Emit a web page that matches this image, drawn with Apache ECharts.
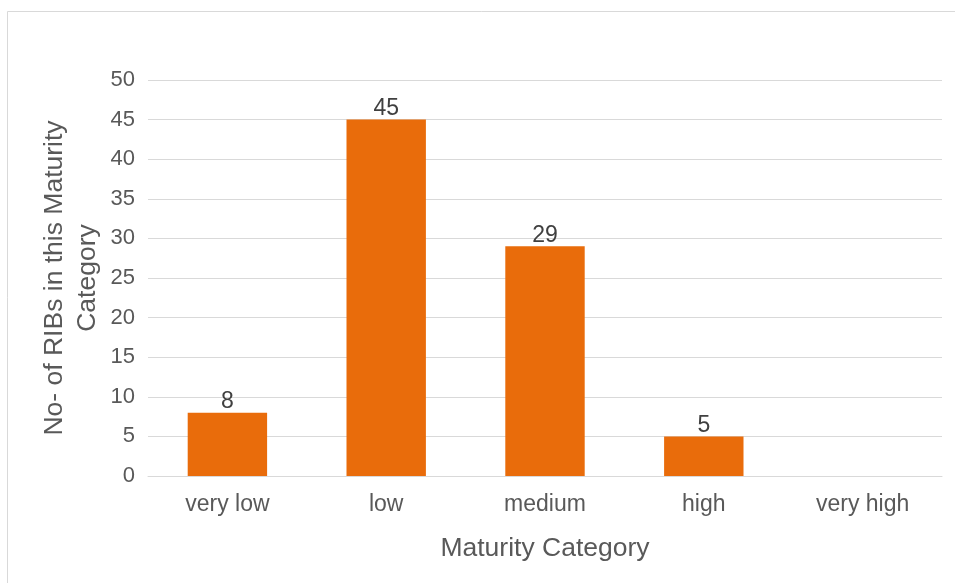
<!DOCTYPE html>
<html>
<head>
<meta charset="utf-8">
<script src="https://cdn.jsdelivr.net/npm/echarts@6/dist/echarts.min.js"></script>
<style>
html,body{margin:0;padding:0;background:#fff;}
#c{width:955px;height:583px;}
</style>
</head>
<body>
<div id="c"></div>
<script>
const categories = ['very low', 'low', 'medium', 'high', 'very high'];
const counts = [8, 45, 29, 5, 0];
const yTicks = { min: 0, max: 50, interval: 5 };
const xTitle = 'Maturity Category';
const yTitle = 'No- of RIBs in this Maturity\nCategory';

const chart = echarts.init(document.getElementById('c'), null, { renderer: 'canvas' });
const font = 'Arial, "Liberation Sans", sans-serif';
chart.setOption({
  animation: false,
  backgroundColor: '#fff',
  graphic: [{
    type: 'rect',
    shape: { x: 7.5, y: 11.5, width: 960, height: 600 },
    style: { fill: 'none', stroke: '#d9d9d9', lineWidth: 1 },
    silent: true, z: -10
  }],
  grid: { left: 148, right: 13, top: 80, bottom: 107 },
  xAxis: {
    type: 'category',
    data: categories,
    name: xTitle,
    nameLocation: 'middle',
    nameGap: 60,
    nameMoveOverlap: false,
    nameTextStyle: { fontFamily: font, fontSize: 26.5, color: '#595959', lineHeight: 26 },
    axisLine: { lineStyle: { color: '#d9d9d9', width: 1 } },
    axisTick: { show: false },
    axisLabel: { fontFamily: font, fontSize: 23, color: '#595959', margin: 17 }
  },
  yAxis: {
    type: 'value',
    min: yTicks.min, max: yTicks.max, interval: yTicks.interval,
    name: yTitle,
    nameLocation: 'middle',
    nameGap: 44,
    nameMoveOverlap: false,
    nameTextStyle: { fontFamily: font, fontSize: 26.5, color: '#595959', lineHeight: 33 },
    axisLine: { show: false },
    axisTick: { show: false },
    axisLabel: { fontFamily: font, fontSize: 22, color: '#595959', margin: 13 },
    splitLine: { lineStyle: { color: '#d9d9d9', width: 1 } }
  },
  series: [{
    type: 'bar',
    data: counts,
    barCategoryGap: '50%',
    itemStyle: { color: '#E96C0B' },
    label: {
      show: true, position: 'top', distance: -1,
      fontFamily: font, fontSize: 23, color: '#404040',
      formatter: p => p.value ? String(p.value) : ''
    }
  }]
});
</script>
</body>
</html>
